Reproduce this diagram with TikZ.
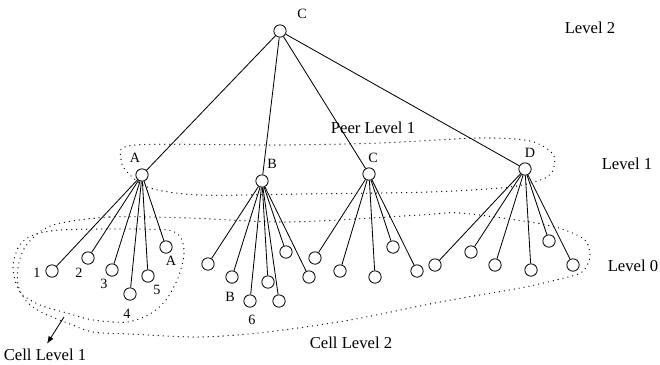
\documentclass[tikz,border=0pt]{standalone}
\usepackage{fontspec}
\setmainfont{Liberation Serif}
\usetikzlibrary{arrows.meta}

\begin{document}
\begin{tikzpicture}[x=0.6pt,y=-0.6pt,>={Latex[length=4.5pt,width=3.4pt]},font=\fontsize{10}{12}\selectfont,line width=0.5pt,
  vtx/.style={draw,circle,minimum size=7.4pt,inner sep=0pt},
  tag/.style={inner sep=0pt,font=\fontsize{8.5}{10}\selectfont},
  lvl/.style={inner sep=0pt},
  dotline/.style={line width=0.8pt,dash pattern=on 0pt off 3pt,line cap=round}]
\useasboundingbox (0,0) rectangle (660,364);
\node[vtx] (top) at (280,31) {};
\node[tag] (ltop) at (302,14) {C};
\foreach \n/\x/\y/\lx/\ly in {A/142/175/135/158,B/262/181/272/164,C/369/174/373/158,D/525/169/530/153}{
  \node[vtx] (\n) at (\x,\y) {};
  \node[tag] (l\n) at (\lx,\ly) {\n};
  \draw (top) -- (\n);
}
\foreach \n/\x/\y in {1/52/271,2/88/258,3/112/270,4/130/294,5/148/276,6/166/247}{
  \node[vtx] (a\n) at (\x,\y) {};
  \draw (A) -- (a\n);
}
\foreach \n/\x/\y in {1/208/264,2/232/277,3/250/301,4/268/282,5/279/301,6/286/252,7/309/277}{
  \node[vtx] (b\n) at (\x,\y) {};
  \draw (B) -- (b\n);
}
\foreach \n/\x/\y in {1/315/258,2/340/271,3/375/277,4/393/247,5/417/271}{
  \node[vtx] (c\n) at (\x,\y) {};
  \draw (C) -- (c\n);
}
\foreach \n/\x/\y in {1/435/265,2/471/252,3/495/265,4/531/270,5/549/241,6/573/265}{
  \node[vtx] (d\n) at (\x,\y) {};
  \draw (D) -- (d\n);
}
\foreach \n/\x/\y/\t in {1/37/273/1,2/79/273/2,3/104/284/3,4/127/314/4,5/157/290/5,6/171/261/A,7/230/297/B,8/252/320/6}{
  \node[tag] (t\n) at (\x,\y) {\t};
}
\node[lvl] (lev2) at (590,28) {Level 2};
\node[lvl] (lev1) at (627,164) {Level 1};
\node[lvl] (lev0) at (633,266) {Level 0};
\node[lvl] (peer) at (373,128) {Peer Level 1};
\node[lvl] (cell2) at (351,343) {Cell Level 2};
\node[lvl] (cell1) at (45,355) {Cell Level 1};
\draw[dotline] plot[smooth cycle] coordinates {(135,145) (280,145) (380,143) (480,138) (530,141) (553,154) (553,170) (543,179) (510,187) (430,192) (300,194) (200,195) (150,188) (128,173) (121,159)};
\draw[dotline] plot[smooth cycle] coordinates {(60,230) (110,229) (167,230) (181,238) (184,255) (178,278) (166,300) (150,314) (127,322) (93,320) (67,313) (40,305) (20,292) (13,268) (19,246) (33,235)};
\draw[dotline] plot[smooth cycle] coordinates {(53,225) (110,217) (190,218) (290,222) (420,215) (460,213) (530,222) (562,229) (585,240) (590,257) (582,272) (560,279) (520,288) (440,302) (350,320) (267,332) (200,337) (130,334) (93,332) (70,324) (43,313) (27,302) (18,285) (19,262) (28,243)};
\coordinate (arr) at (64,317);
\draw[->] (arr) -- ([xshift=1.2pt,yshift=3pt]cell1.north);
\end{tikzpicture}
\end{document}
